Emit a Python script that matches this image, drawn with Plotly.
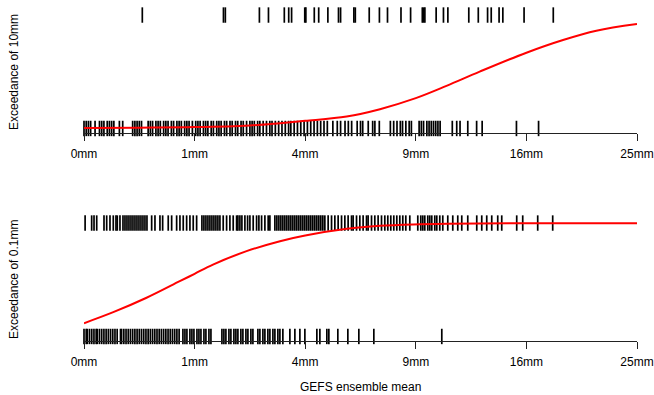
import numpy as np
import plotly.graph_objects as go

# ---------------- data ----------------
tick_mm = [0, 1, 4, 9, 16, 25]
tick_labels = ["0mm", "1mm", "4mm", "9mm", "16mm", "25mm"]

# Panel 1: exceedance of 10mm (observed yes / no) vs GEFS ensemble mean (mm)
exceed10_yes_mm = [0.278, 1.590, 1.633, 2.515, 2.782, 3.280, 3.426, 3.523, 3.984, 4.024,
                   4.335, 4.503, 4.862, 5.295, 5.382, 5.954, 6.017, 6.651, 7.134, 7.530,
                   8.214, 8.720, 9.357, 9.419, 9.499, 10.138, 10.563, 10.824, 12.104, 12.709,
                   13.315, 13.557, 14.085, 14.341, 15.832, 18.003]
exceed10_no_mm = [0.0, 0.0004, 0.0016, 0.0036, 0.01, 0.0196, 0.0256, 0.0324, 0.0441, 0.0529,
                  0.0625, 0.0729, 0.1024, 0.1225, 0.1936, 0.2116, 0.2304, 0.25, 0.2704, 0.3364,
                  0.36, 0.3844, 0.4225, 0.4489, 0.4761, 0.5184, 0.5476, 0.5776, 0.6241, 0.6561,
                  0.7056, 0.7396, 0.7744, 0.8281, 0.8649, 0.9025, 0.9604, 1.0201, 1.0609, 1.1025,
                  1.1664, 1.21, 1.2544, 1.3225, 1.3689, 1.44, 1.4884, 1.5376, 1.6129, 1.6641,
                  1.7424, 1.7956, 1.8769, 1.9321, 2.0164, 2.0736, 2.1609, 2.25, 2.3104, 2.3716,
                  2.4649, 2.5281, 2.6244, 2.7225, 2.8224, 2.89, 2.9929, 3.0976, 3.2041, 3.3124,
                  3.4225, 3.4969, 3.61, 3.7249, 3.8416, 3.9601, 4.0804, 4.2025, 4.3264, 4.4521,
                  4.5796, 4.7089, 4.84, 5.0625, 5.2441, 5.3824, 5.5696, 5.7121, 5.8564, 6.1009,
                  6.25, 6.3504, 6.6049, 6.8121, 6.9169, 7.1289, 7.6729, 7.84, 8.0089, 8.1796,
                  8.2944, 8.4681, 8.6436, 8.7616, 9.1809, 9.3025, 9.4249, 9.61, 9.7344, 9.8596,
                  9.9856, 10.1124, 10.24, 10.3684, 11.0889, 11.3569, 11.56, 12.0409, 12.6025, 12.96,
                  15.2881, 16.8921]

# Panel 2: exceedance of 0.1mm (observed yes / no)
exceed01_yes_mm = [0.0001, 0.0048, 0.0082, 0.0132, 0.0327, 0.0421, 0.0552, 0.0701, 0.0836, 0.0905,
                   0.1058, 0.1242, 0.1373, 0.1510, 0.1653, 0.1804, 0.1960, 0.2124, 0.2294, 0.2470,
                   0.2653, 0.2842, 0.3038, 0.3241, 0.3742, 0.4116, 0.4716, 0.5057, 0.5802, 0.6280,
                   0.7016, 0.7524, 0.8051, 0.8612, 0.9174, 0.9754, 1.0370, 1.1368, 1.1757, 1.2153,
                   1.2555, 1.2962, 1.3377, 1.3799, 1.4225, 1.4660, 1.5102, 1.5843, 1.6626, 1.7403,
                   1.8201, 1.9038, 1.9363, 1.9870, 2.0383, 2.1164, 2.1880, 2.25, 2.3403, 2.4352,
                   2.5005, 2.5783, 2.6749, 2.7733, 2.8248, 2.9787, 3.0412, 3.1046, 3.1688, 3.2332,
                   3.2986, 3.3647, 3.4314, 3.4984, 3.5664, 3.6351, 3.7041, 3.7741, 3.8447, 3.9160,
                   3.9876, 4.0602, 4.1335, 4.2070, 4.2816, 4.3568, 4.4327, 4.5088, 4.5860, 4.6639,
                   4.7419, 4.8731, 5.0095, 5.1438, 5.2803, 5.4224, 5.5621, 5.7035, 5.8511, 5.9214,
                   6.0718, 6.2195, 6.3691, 6.5250, 6.5992, 6.7579, 6.9137, 7.0719, 7.2361, 7.3973,
                   7.5455, 7.6951, 7.8462, 7.9987, 8.1527, 8.3082, 8.4658, 8.6772, 9.1083, 9.2726,
                   9.3832, 9.4938, 9.6615, 9.7744, 9.8879, 10.0590, 10.1742, 10.3478, 10.5229, 10.8182,
                   11.1176, 11.4203, 11.6663, 12.0395, 12.6103, 12.9334, 13.2598, 13.5910, 13.9936, 14.2657,
                   15.3077, 15.7347, 16.8289, 17.9589]
exceed01_no_mm = [0.0, 0.0004, 0.0009, 0.0025, 0.0049, 0.0081, 0.0121, 0.0144, 0.0196, 0.0256,
                  0.0324, 0.04, 0.0484, 0.0576, 0.0676, 0.0784, 0.09, 0.1089, 0.1156, 0.1296,
                  0.1444, 0.16, 0.1764, 0.1936, 0.2116, 0.2304, 0.25, 0.2704, 0.2916, 0.3136,
                  0.3364, 0.36, 0.3844, 0.4096, 0.4356, 0.4624, 0.49, 0.5184, 0.5476, 0.5776,
                  0.6084, 0.64, 0.6724, 0.7056, 0.7396, 0.800, 0.833, 0.866, 0.917, 0.952,
                  0.988, 1.043, 1.080, 1.118, 1.176, 1.215, 1.276, 1.317, 1.555, 1.600,
                  1.646, 1.717, 1.764, 1.837, 1.886, 1.936, 2.012, 2.064, 2.143, 2.196,
                  2.277, 2.332, 2.472, 2.529, 2.616, 2.675, 2.764, 2.825, 2.917, 2.979,
                  3.073, 3.137, 3.233, 3.465, 3.635, 3.810, 3.988, 4.433, 4.548, 4.821,
                  4.901, 5.267, 5.691, 6.175, 6.867, 10.465]

# fitted probability curves
curve10_mm = [0, 0.25, 1, 2.25, 3.14, 4, 5.64, 7.16, 9, 10.74, 12.8, 16, 18.76, 21.46, 25]
curve10_prob = [0.004, 0.007, 0.012, 0.027, 0.047, 0.067, 0.105, 0.170, 0.267, 0.375,
                0.501, 0.668, 0.780, 0.862, 0.921]
curve01_mm = [0, 0.07, 0.32, 0.75, 1.0, 1.36, 2.16, 3.14, 4, 5.65, 7.16, 8.86, 10.74, 16, 25]
curve01_prob = [0.117, 0.214, 0.341, 0.487, 0.552, 0.634, 0.752, 0.840, 0.890, 0.949,
                0.975, 0.988, 0.994, 0.998, 0.999]

# ---------------- figure ----------------
W, H = 654, 395
FONT = "Liberation Sans, Arial, Helvetica, sans-serif"


def rug(xmm, yval, xa, ya):
    xmm = np.asarray(xmm, dtype=float)
    return go.Scatter(
        x=np.sqrt(xmm), y=[yval] * len(xmm), mode="markers",
        marker=dict(symbol="line-ns", size=11, color="black",
                    line=dict(width=1.7, color="black")),
        xaxis=xa, yaxis=ya, cliponaxis=False, hoverinfo="skip", showlegend=False)


def curve(xmm, prob, xa, ya):
    return go.Scatter(
        x=np.sqrt(np.asarray(xmm, dtype=float)), y=prob, mode="lines",
        line=dict(color="#ff0000", width=2, shape="spline", smoothing=1.0),
        xaxis=xa, yaxis=ya, hoverinfo="skip", showlegend=False)


fig = go.Figure()
fig.add_trace(rug(exceed10_no_mm, 0, "x", "y"))
fig.add_trace(rug(exceed10_yes_mm, 1, "x", "y"))
fig.add_trace(curve(curve10_mm, curve10_prob, "x", "y"))
fig.add_trace(rug(exceed01_no_mm, 0, "x2", "y2"))
fig.add_trace(rug(exceed01_yes_mm, 1, "x2", "y2"))
fig.add_trace(curve(curve01_mm, curve01_prob, "x2", "y2"))

xdom = [84 / W, 637 / W]
xaxis_common = dict(
    range=[0, 5], domain=xdom, automargin=False,
    tickvals=list(np.sqrt(tick_mm)), ticktext=tick_labels,
    ticks="outside", ticklen=7, tickwidth=1, tickcolor="#222",
    ticklabelstandoff=3,
    showline=True, linecolor="#222", linewidth=1,
    showgrid=False, zeroline=False,
    tickfont=dict(family=FONT, size=12, color="black"),
    fixedrange=True,
)
yaxis_common = dict(range=[-0.04, 1.04], visible=False, showgrid=False,
                    zeroline=False, fixedrange=True, automargin=False)

fig.update_layout(
    width=W, height=H,
    margin=dict(l=0, r=0, t=0, b=0, pad=0, autoexpand=False),
    paper_bgcolor="white", plot_bgcolor="white",
    showlegend=False,
    font=dict(family=FONT, size=12, color="black"),
    xaxis=dict(**xaxis_common, anchor="y"),
    yaxis=dict(**yaxis_common, domain=[1 - 133 / H, 1 - 10.5 / H], anchor="x"),
    xaxis2=dict(**xaxis_common, anchor="y2"),
    yaxis2=dict(**yaxis_common, domain=[1 - 341 / H, 1 - 218.5 / H], anchor="x2"),
    annotations=[
        dict(text="Exceedance of 10mm", x=14 / W, y=1 - 72 / H, xref="paper", yref="paper",
             textangle=-90, showarrow=False, xanchor="center", yanchor="middle",
             font=dict(family=FONT, size=12, color="black")),
        dict(text="Exceedance of 0.1mm", x=14 / W, y=1 - 280 / H, xref="paper", yref="paper",
             textangle=-90, showarrow=False, xanchor="center", yanchor="middle",
             font=dict(family=FONT, size=12, color="black")),
        dict(text="GEFS ensemble mean", x=360.5 / W, y=1 - 387 / H, xref="paper", yref="paper",
             showarrow=False, xanchor="center", yanchor="middle",
             font=dict(family=FONT, size=12, color="black")),
    ],
)

fig.write_html("out.html",
               config={"displayModeBar": False, "staticPlot": True},
               post_script="document.body.style.margin='0';document.body.style.padding='0';")
